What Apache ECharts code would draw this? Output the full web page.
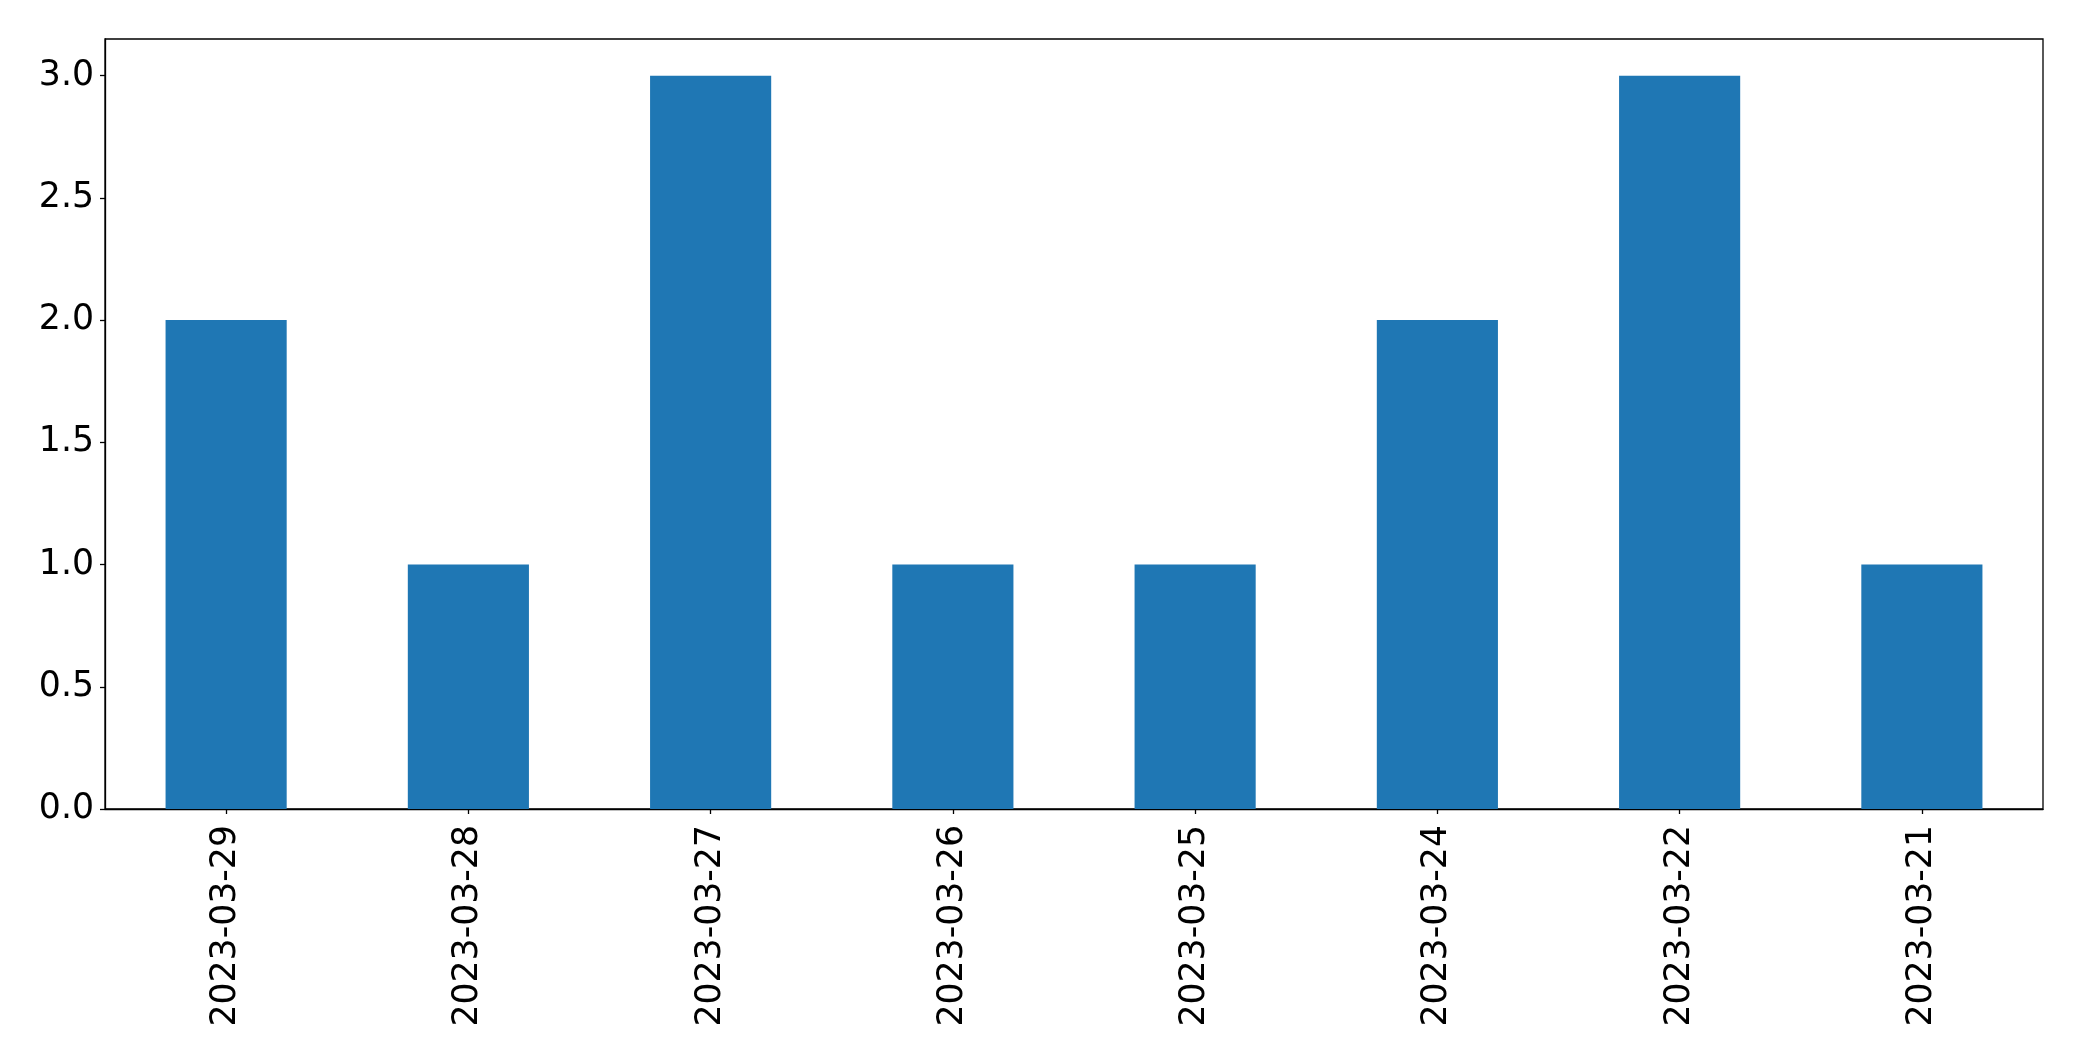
<!DOCTYPE html>
<html>
<head>
<meta charset="utf-8">
<script src="https://cdn.jsdelivr.net/npm/echarts@6/dist/echarts.min.js"></script>
<style>html,body{margin:0;padding:0;background:#fff;}#c{width:2082px;height:1061px;}</style>
</head>
<body>
<div id="c"></div>
<script>
const categories = ['2023-03-29','2023-03-28','2023-03-27','2023-03-26','2023-03-25','2023-03-24','2023-03-22','2023-03-21'];
const values = [2, 1, 3, 1, 1, 2, 3, 1];
const yTicks = [0, 0.5, 1, 1.5, 2, 2.5, 3];

const chart = echarts.init(document.getElementById('c'), null, {renderer: 'canvas'});
const font = 'DejaVu Sans';
chart.setOption({
  animation: false,
  backgroundColor: '#fff',
  grid: {left: 105, right: 39, top: 39, bottom: 252, show: true, borderColor: '#000', borderWidth: 1.3, containLabel: false},
  xAxis: {
    type: 'category',
    data: categories,
    axisLine: {show: true, lineStyle: {color: '#000', width: 1.3}},
    axisTick: {show: true, alignWithLabel: true, length: 5, lineStyle: {color: '#000', width: 1.3}},
    axisLabel: {rotate: 90, margin: 16, color: '#000', fontSize: 34.7, fontFamily: font},
    splitLine: {show: false}
  },
  yAxis: {
    type: 'value',
    min: 0,
    max: 3.15,
    interval: 0.5,
    axisLine: {show: true, lineStyle: {color: '#000', width: 1.3}},
    axisTick: {show: true, length: 5, lineStyle: {color: '#000', width: 1.3},
      customValues: yTicks},
    axisLabel: {margin: 11, color: '#000', fontSize: 34.7, fontFamily: font,
      customValues: yTicks,
      formatter: v => v.toFixed(1)},
    splitLine: {show: false}
  },
  series: [{
    type: 'bar',
    data: values,
    barWidth: '50%',
    itemStyle: {color: '#1f77b4'}
  }]
});
</script>
</body>
</html>
